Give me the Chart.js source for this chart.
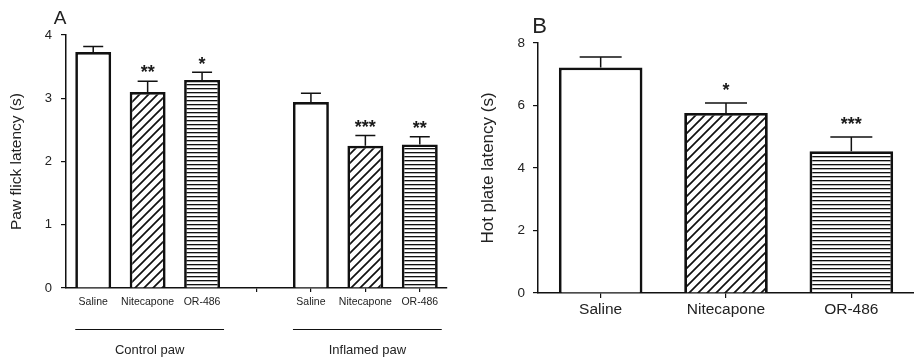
<!DOCTYPE html>
<html><head><meta charset="utf-8">
<script src="https://cdn.jsdelivr.net/npm/chart.js@4.4.1/dist/chart.umd.min.js"></script>
<style>
html,body{margin:0;padding:0;background:#fff;}
#wrapA{position:absolute;left:0;top:0;width:460px;height:358px;}
#wrapB{position:absolute;left:460px;top:0;width:454px;height:358px;}
canvas{display:block;}
</style></head><body>
<div id="wrapA"><canvas id="cA" width="460" height="358"></canvas></div>
<div id="wrapB"><canvas id="cB" width="454" height="358"></canvas></div>
<script>
// ---- Panel A data ----
const categoriesA = ['Saline','Nitecapone','OR-486','','Saline','Nitecapone','OR-486'];
const latencyA = [3.73, 3.10, 3.29, null, 2.94, 2.25, 2.27];
const semA = [0.09, 0.17, 0.12, null, 0.14, 0.16, 0.12];
const starsA = ['', '**', '*', '', '', '***', '**'];
const fillA = ['open', 'diag', 'horiz', null, 'open', 'diag', 'horiz'];
const groupLabelsA = ['Control paw', 'Inflamed paw'];
const groupStartA = [0, 4];
const groupEndA = [2, 6];

// ---- Panel B data ----
const categoriesB = ['Saline','Nitecapone','OR-486'];
const latencyB = [7.22, 5.76, 4.54];
const semB = [0.33, 0.32, 0.45];
const starsB = ['', '*', '***'];
const fillB = ['open', 'diag', 'horiz'];

const FONT = "'Liberation Sans', Arial, Helvetica, sans-serif";
Chart.defaults.font.family = FONT;
Chart.defaults.color = '#222';

function makePattern(kind){
  if(!kind || kind === 'open') return '#ffffff';
  const c = document.createElement('canvas');
  const g = c.getContext('2d');
  if(kind === 'diag'){
    const s = 9; c.width = s; c.height = s;
    g.fillStyle = '#fff'; g.fillRect(0,0,s,s);
    g.strokeStyle = '#111'; g.lineWidth = 1.7;
    g.beginPath();
    for(let k=-1;k<=1;k++){ g.moveTo(-1, s + k*s + 1); g.lineTo(s+1, k*s - 1); }
    g.stroke();
  } else {
    c.width = 4; c.height = 4;
    g.fillStyle = '#fff'; g.fillRect(0,0,4,4);
    g.fillStyle = '#111'; g.fillRect(0,0,4,1);
    g.fillStyle = 'rgba(0,0,0,0.3)'; g.fillRect(0,1,4,1);
  }
  return g.createPattern(c, 'repeat');
}

function errorPlugin(values, sems, stars, capW, starGap){
  return {id:'errbars', afterDatasetsDraw(chart){
    const ctx = chart.ctx, x = chart.scales.x, y = chart.scales.y;
    ctx.save();
    ctx.strokeStyle = '#111'; ctx.lineWidth = 1.5;
    values.forEach((v,i)=>{
      if(v == null) return;
      const px = x.getPixelForValue(i);
      const y0 = y.getPixelForValue(v);
      const y1 = y.getPixelForValue(v + sems[i]);
      ctx.beginPath();
      ctx.moveTo(px, y0); ctx.lineTo(px, y1);
      ctx.moveTo(px - capW/2, y1); ctx.lineTo(px + capW/2, y1);
      ctx.stroke();
      if(stars[i]){
        ctx.fillStyle = '#1a1a1a';
        ctx.font = 'bold 18px ' + FONT;
        ctx.textAlign = 'center'; ctx.textBaseline = 'alphabetic';
        ctx.fillText(stars[i], px, y1 - starGap + 10.3);
      }
    });
    ctx.restore();
  }};
}

function letterPlugin(letter, dx, baseY, size){
  return {id:'letter', afterDraw(chart){
    const ctx = chart.ctx;
    ctx.save();
    ctx.fillStyle = '#222';
    ctx.font = size + 'px ' + FONT;
    ctx.textAlign = 'center'; ctx.textBaseline = 'alphabetic';
    ctx.fillText(letter, chart.chartArea.left + dx, baseY);
    ctx.restore();
  }};
}

const groupPlugin = {id:'groups', afterDraw(chart){
  const ctx = chart.ctx, meta = chart.getDatasetMeta(0);
  ctx.save();
  ctx.strokeStyle = '#111'; ctx.lineWidth = 1.2;
  ctx.fillStyle = '#222';
  ctx.font = '13px ' + FONT;
  ctx.textAlign = 'center'; ctx.textBaseline = 'middle';
  groupLabelsA.forEach((lab,g)=>{
    const b0 = meta.data[groupStartA[g]], b1 = meta.data[groupEndA[g]];
    const xl = b0.x - b0.width/2, xr = b1.x + b1.width/2 + 4;
    ctx.beginPath(); ctx.moveTo(xl, 329.5); ctx.lineTo(xr, 329.5); ctx.stroke();
    ctx.fillText(lab, (xl + xr)/2, 350);
  });
  ctx.restore();
}};

new Chart(document.getElementById('cA'), {
  type: 'bar',
  data: {labels: categoriesA, datasets: [{
    data: latencyA,
    backgroundColor: fillA.map(makePattern),
    borderColor: '#111', borderWidth: 2.7,
    categoryPercentage: 1, barPercentage: 0.66
  }]},
  options: {
    responsive: false, animation: false,
    layout: {padding: {left: 0, right: 13, top: 35, bottom: 0}},
    plugins: {legend: {display: false}, tooltip: {enabled: false}, title: {display: false}},
    scales: {
      x: {
        grid: {display: true, offset: false, drawOnChartArea: false, drawTicks: true, tickLength: 4,
               color: (c)=> (c.index < 3 ? 'rgba(0,0,0,0)' : '#111'), lineWidth: 1.2},
        border: {display: true, color: '#111', width: 1.5},
        ticks: {font: {size: 10.5}, color: '#222', padding: 4, maxRotation: 0, autoSkip: false},
        afterFit: (s)=>{ s.height = 70; }
      },
      y: {
        min: 0, max: 4,
        ticks: {stepSize: 1, font: {size: 13}, padding: 9, color: '#222'},
        grid: {drawOnChartArea: false, tickLength: 5, color: '#111', lineWidth: 1.2},
        border: {display: true, color: '#111', width: 1.5},
        title: {display: true, text: 'Paw flick latency (s)', font: {size: 15.5}, color: '#222', padding: {top: 7, bottom: 0}},
        afterFit: (s)=>{ s.width = 66; }
      }
    }
  },
  plugins: [errorPlugin(latencyA, semA, starsA, 20, 13), groupPlugin, letterPlugin('A', -6, 24, 19)]
});

new Chart(document.getElementById('cB'), {
  type: 'bar',
  data: {labels: categoriesB, datasets: [{
    data: latencyB,
    backgroundColor: fillB.map(makePattern),
    borderColor: '#111', borderWidth: 2.8,
    categoryPercentage: 1, barPercentage: 0.667
  }]},
  options: {
    responsive: false, animation: false,
    layout: {padding: {left: 0, right: 0, top: 43, bottom: 0}},
    plugins: {legend: {display: false}, tooltip: {enabled: false}, title: {display: false}},
    scales: {
      x: {
        grid: {display: true, offset: false, drawOnChartArea: false, drawTicks: true, tickLength: 5, color: '#111', lineWidth: 1.2},
        border: {display: true, color: '#111', width: 1.5},
        ticks: {font: {size: 15.5}, color: '#222', padding: 2, maxRotation: 0, autoSkip: false},
        afterFit: (s)=>{ s.height = 65; }
      },
      y: {
        min: 0, max: 8,
        ticks: {stepSize: 2, font: {size: 13.5}, padding: 8, color: '#222'},
        grid: {drawOnChartArea: false, tickLength: 5, color: '#111', lineWidth: 1.2},
        border: {display: true, color: '#111', width: 1.5},
        title: {display: true, text: 'Hot plate latency (s)', font: {size: 17}, color: '#222', padding: {top: 18, bottom: 0}},
        afterFit: (s)=>{ s.width = 78; }
      }
    }
  },
  plugins: [errorPlugin(latencyB, semB, starsB, 42, 17), letterPlugin('B', 1.5, 33, 22)]
});
</script>
</body></html>
